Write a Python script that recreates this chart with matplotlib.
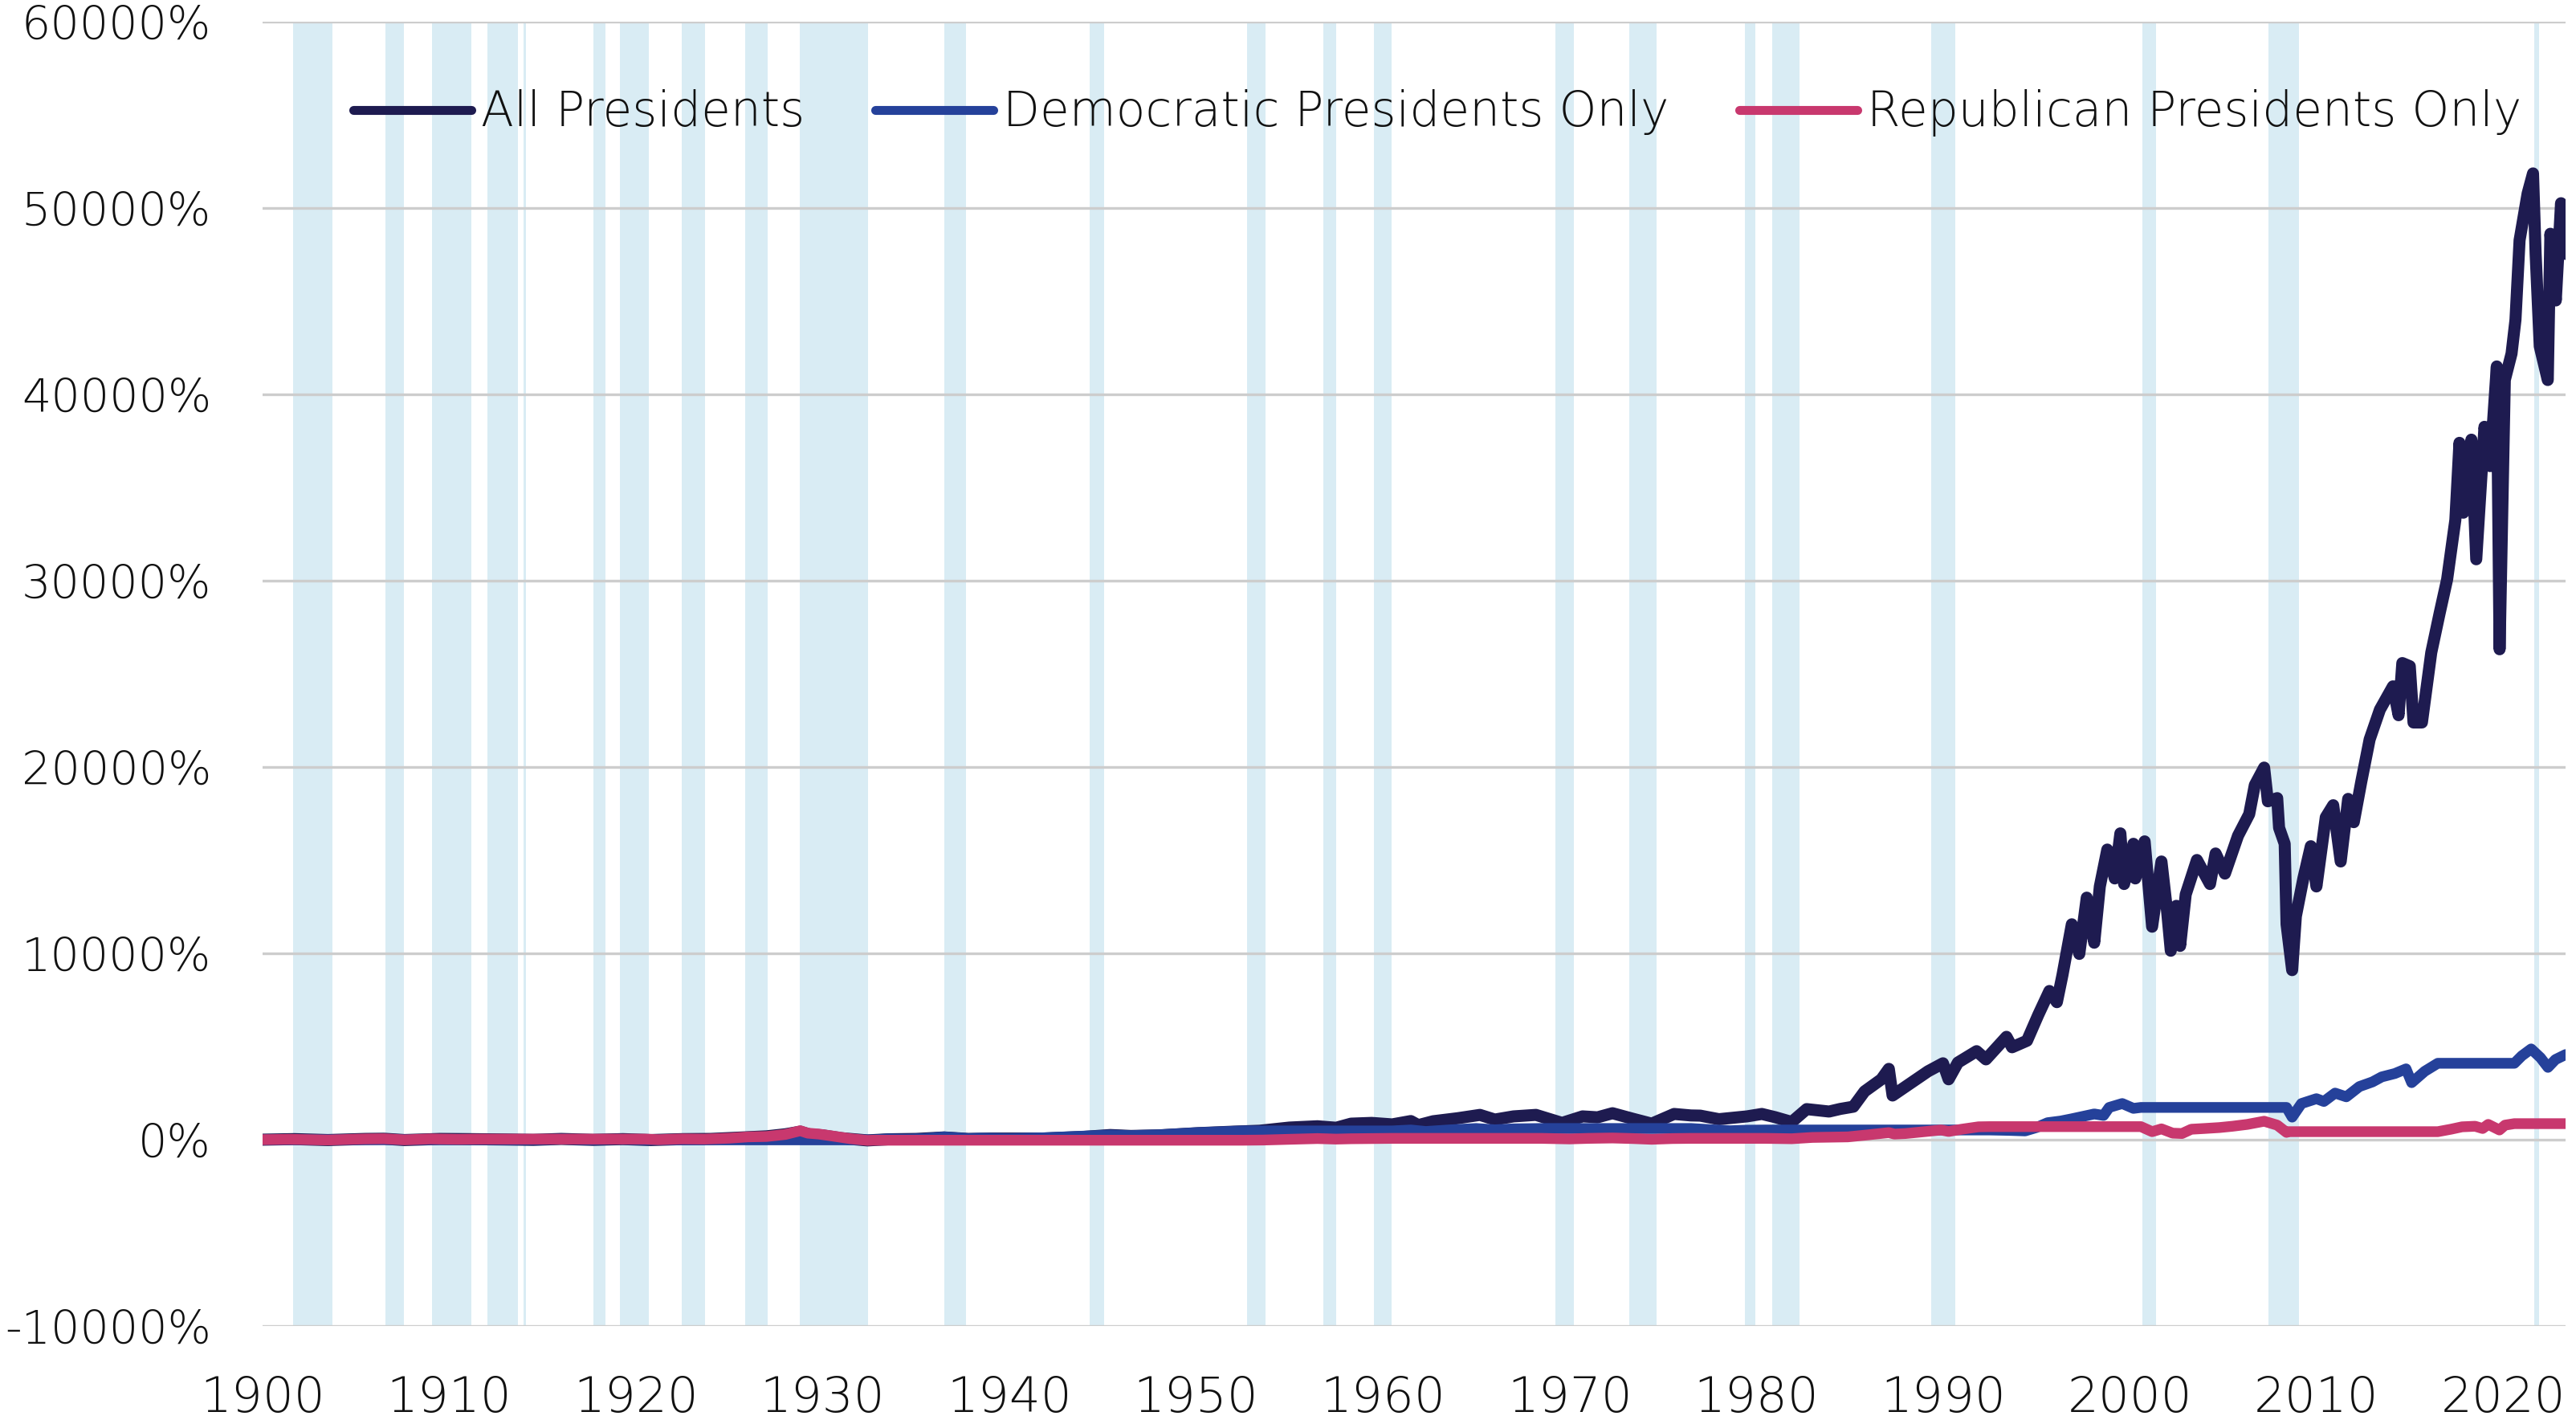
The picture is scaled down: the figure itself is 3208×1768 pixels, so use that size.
import matplotlib
matplotlib.use("Agg")
import matplotlib.pyplot as plt
from matplotlib.ticker import FuncFormatter
from matplotlib.lines import Line2D

# ---------------- data (chart years, cumulative return in %) ----------------
years_all = [1900.0, 1901.7, 1903.5, 1905.5, 1906.5, 1907.6, 1909.5, 1911.0, 1913.0, 1914.5,
             1916.0, 1917.7, 1919.3, 1920.8, 1922.5, 1924.0, 1925.5, 1927.0, 1928.0, 1928.8,
             1929.3, 1930.0, 1931.0, 1932.4, 1933.5, 1935.0, 1936.5, 1937.8, 1939.0, 1941.8,
             1944.0, 1945.4, 1946.5, 1948.0, 1950.1, 1952.0, 1953.4, 1955.0, 1956.5, 1957.5,
             1958.3, 1959.4, 1960.5, 1961.5, 1961.9, 1962.7, 1964.0, 1965.2, 1966.0, 1967.0,
             1968.2, 1969.6, 1970.7, 1971.5, 1972.3, 1973.4, 1974.4, 1975.6, 1976.5, 1977.0,
             1978.0, 1978.6, 1979.5, 1980.3, 1981.0, 1981.9, 1982.7, 1983.9, 1984.5, 1985.2,
             1985.8, 1986.7, 1987.1, 1987.3, 1988.0, 1989.2, 1990.0, 1990.3, 1990.8, 1991.8,
             1992.3, 1993.4, 1993.7, 1994.5, 1995.1, 1995.7, 1996.1, 1996.4, 1996.9, 1997.3,
             1997.7, 1998.1, 1998.4, 1998.8, 1999.2, 1999.5, 1999.7, 2000.2, 2000.3, 2000.8,
             2001.2, 2001.7, 2002.0, 2002.2, 2002.5, 2002.7, 2003.0, 2003.6, 2004.3, 2004.6,
             2005.1, 2005.8, 2006.4, 2006.7, 2007.2, 2007.4, 2007.9, 2008.0, 2008.3, 2008.4,
             2008.7, 2008.9, 2009.3, 2009.7, 2010.0, 2010.5, 2010.9, 2011.3, 2011.7, 2012.0,
             2012.4, 2012.85, 2013.4, 2014.1, 2014.4, 2014.6, 2015.0, 2015.2, 2015.65, 2016.15,
             2016.6, 2017.0, 2017.44, 2017.66, 2017.87, 2018.3, 2018.56, 2019.0, 2019.3, 2019.66,
             2019.81, 2020.09, 2020.45, 2020.66, 2020.88, 2021.31, 2021.6, 2021.74, 2021.96, 2022.39,
             2022.53, 2022.82, 2023.1, 2023.35]
vals_all = [0, 30, -20, 40, 50, -20, 40, 30, 10, -10,
            40, -10, 30, -20, 30, 40, 110, 180, 290, 430,
            280, 230, 80, -40, 20, 40, 120, 40, 60, 60,
            150, 250, 200, 230, 350, 430, 480, 650, 720, 640,
            860, 900, 820, 1000, 780, 990, 1150, 1330, 1080, 1250,
            1330, 900, 1250, 1200, 1420, 1120, 860, 1380, 1300, 1290,
            1100, 1160, 1250, 1380, 1210, 950, 1640, 1510, 1650, 1770,
            2590, 3240, 3800, 2370, 2850, 3670, 4100, 3240, 4140, 4750,
            4310, 5520, 4960, 5310, 6690, 7980, 7380, 8840, 11560, 9970,
            12990, 10570, 13590, 15570, 14020, 16440, 13720, 15880, 14020, 16010,
            11430, 14930, 12290, 10140, 12550, 10400, 13160, 15010, 13720, 15360,
            14280, 16310, 17470, 19030, 19970, 18160, 18330, 16740, 15880, 11560,
            9100, 11990, 14020, 15750, 13590, 17300, 17950, 14930, 18290, 17040,
            19200, 21480, 23080, 24330, 22780, 25580, 25410, 22390, 22390, 26140,
            28260, 30070, 33260, 37400, 33650, 37570, 31150, 38260, 36150, 41500,
            26320, 40770, 42190, 44000, 48270, 50780, 51860, 47540, 42580, 40770,
            48620, 45040, 50260, 47540]

years_dem = [1900, 1912.5, 1913.5, 1915, 1916, 1917.5, 1919, 1920.5, 1932.7, 1933.5,
             1934.5, 1935.5, 1936.5, 1937.8, 1938.5, 1940, 1941.8, 1943, 1945.4, 1946.5,
             1948, 1950.1, 1951.5, 1952.5, 1960.5, 1961.5, 1962.3, 1963.5, 1965, 1966,
             1967, 1968.5, 1976.5, 1977.5, 1978.6, 1979.5, 1980.5, 1992.5, 1993.5, 1994.4,
             1995, 1995.6, 1996.3, 1996.9, 1997.5, 1998.1, 1998.6, 1998.9, 1999.6, 2000.2,
             2000.6, 2008.4, 2008.7, 2009.2, 2010.0, 2010.4, 2011.0, 2011.6, 2012.3, 2013.0,
             2013.5, 2014.2, 2014.8, 2015.1, 2015.8, 2016.5, 2020.6, 2021.0, 2021.5, 2022.0,
             2022.4, 2022.8, 2023.35]
vals_dem = [0, 0, -10, 0, 30, -10, 20, -10, -10, 40,
            30, 60, 150, 60, 80, 60, 100, 150, 250, 220,
            260, 380, 430, 470, 470, 520, 440, 520, 600, 530,
            580, 600, 600, 540, 480, 510, 520, 520, 500, 470,
            650, 910, 1000, 1120, 1250, 1380, 1300, 1730, 1940, 1680,
            1730, 1730, 1210, 1940, 2200, 2050, 2500, 2300, 2850, 3100,
            3370, 3550, 3800, 3060, 3670, 4100, 4100, 4500, 4870, 4400,
            3880, 4300, 4570]

years_rep = [1900, 1901.5, 1903.5, 1905.5, 1906.5, 1907.6, 1909, 1910.5, 1911.5, 1912.5,
             1920.5, 1921.2, 1922.5, 1923.7, 1925, 1926, 1927, 1928, 1928.8, 1929.2,
             1929.8, 1930.5, 1931.5, 1932.4, 1932.7, 1952.5, 1953.6, 1955, 1956.5, 1957.5,
             1958.3, 1960.5, 1968.5, 1970, 1971, 1972.3, 1973.4, 1974.4, 1975.5, 1976.5,
             1980.5, 1981.9, 1983, 1984.9, 1986, 1987.1, 1987.4, 1988, 1989.2, 1989.9,
             1990.3, 1991, 1991.9, 1992.5, 2000.6, 2001.2, 2001.7, 2002.3, 2002.8, 2003.3,
             2004.0, 2004.8, 2005.5, 2006.3, 2007.2, 2007.9, 2008.4, 2008.5, 2016.5, 2017.2,
             2017.8, 2018.5, 2018.9, 2019.2, 2019.8, 2020.1, 2020.6, 2023.35]
vals_rep = [0, 20, -20, 40, 50, -10, 40, 20, 30, 30,
            30, 0, 40, 30, 80, 150, 170, 280, 480, 350,
            300, 200, 50, -40, -30, -30, -20, 20, 60, 30,
            50, 70, 70, 40, 70, 90, 60, 20, 60, 70,
            70, 50, 120, 150, 260, 380, 300, 330, 450, 520,
            440, 560, 690, 700, 700, 430, 580, 350, 330, 560,
            600, 650, 720, 820, 990, 780, 390, 430, 430, 560,
            690, 720, 600, 820, 520, 780, 860, 860]

band_start = [1901.66, 1906.60, 1909.06, 1912.03, 1913.97, 1917.71, 1919.13, 1922.44, 1925.84, 1928.77,
              1936.51, 1944.30, 1952.74, 1956.82, 1959.53, 1969.26, 1973.18, 1979.41, 1980.87, 1989.39,
              2000.66, 2007.42, 2021.66]
band_end = [1903.74, 1907.56, 1911.17, 1913.67, 1914.10, 1918.36, 1920.68, 1923.69, 1927.05, 1932.43,
            1937.68, 1945.08, 1953.73, 1957.51, 1960.48, 1970.25, 1974.64, 1979.97, 1982.33, 1990.68,
            2001.43, 2009.06, 2021.92]

x_ticks = list(range(1900, 2021, 10))
y_ticks = list(range(-10000, 60001, 10000))
series_names = ["All Presidents", "Democratic Presidents Only", "Republican Presidents Only"]
series_colors = ["#1e1b50", "#25419a", "#c8386e"]

assert len(years_all) == len(vals_all)
assert len(years_dem) == len(vals_dem)
assert len(years_rep) == len(vals_rep)

# ---------------- figure ----------------
plt.rcParams['font.family'] = ['DejaVu Sans']
FS = 21.5

fig = plt.figure(figsize=(16.04, 8.84), dpi=200)
ax = fig.add_axes([0.1019, 0.0662, 0.8941, 0.9185])

for s, e in zip(band_start, band_end):
    ax.axvspan(s, e, color="#d9ecf4", lw=0, zorder=0)

ax.set_axisbelow(True)
ax.yaxis.grid(True, color="#cdcdcd", lw=1.2)
ax.xaxis.grid(False)

for xs, ys, c, z, w in [(years_all, vals_all, series_colors[0], 3, 5.4),
                        (years_dem, vals_dem, series_colors[1], 4, 4.8),
                        (years_rep, vals_rep, series_colors[2], 5, 4.8)]:
    ax.plot(xs, ys, color=c, lw=w, solid_joinstyle="round", solid_capstyle="round", zorder=z)

ax.set_xlim(1900, 2023.35)
ax.set_ylim(-10000, 60000)
ax.set_xticks(x_ticks)
ax.set_yticks(y_ticks)
ax.yaxis.set_major_formatter(FuncFormatter(lambda v, p: f"{int(round(v))}%"))
ax.xaxis.set_major_formatter(FuncFormatter(lambda v, p: f"{int(round(v))}"))
ax.tick_params(axis="x", length=0, labelsize=22, labelcolor="#111111", pad=22)
ax.tick_params(axis="y", length=0, labelsize=20.6, labelcolor="#111111", pad=23)
for lab in ax.get_xticklabels() + ax.get_yticklabels():
    lab.set_fontweight("light")

for sp in ax.spines.values():
    sp.set_visible(False)

handles = [Line2D([0], [0], color=c, lw=4.0, solid_capstyle="round") for c in series_colors]
leg = fig.legend(handles, series_names, ncol=3, loc="center left",
                 bbox_to_anchor=(440 / 3208, 1 - 141 / 1768), bbox_transform=fig.transFigure,
                 frameon=False, handlelength=2.46, handletextpad=0.2,
                 columnspacing=1.47, borderpad=0, borderaxespad=0,
                 prop={"size": FS, "weight": "light"})
for t in leg.get_texts():
    t.set_color("#111111")

fig.savefig("out.png", dpi=200)
